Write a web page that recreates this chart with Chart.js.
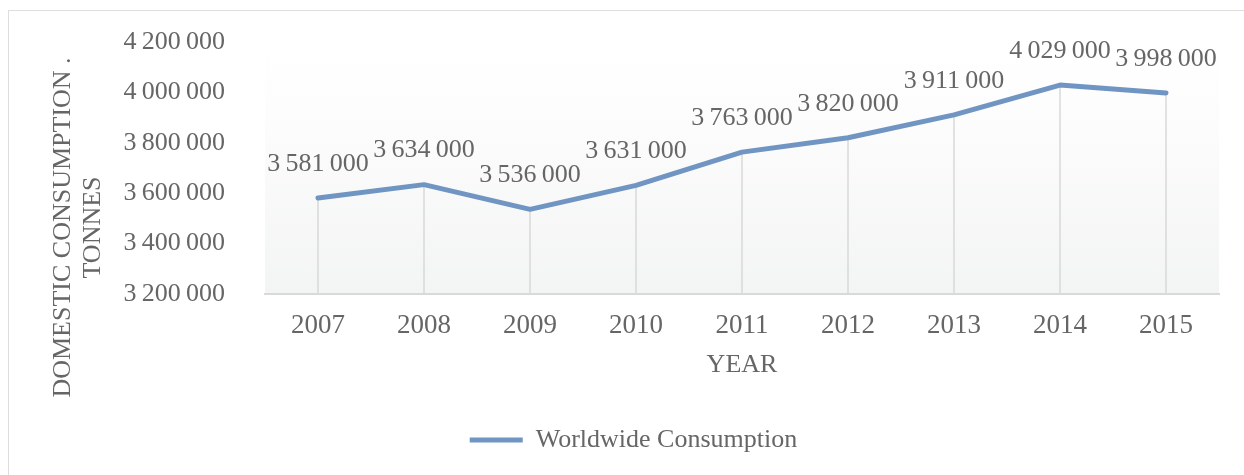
<!DOCTYPE html>
<html>
<head>
<meta charset="utf-8">
<script src="https://cdn.jsdelivr.net/npm/chart.js@4.4.1/dist/chart.umd.min.js"></script>
<style>
    html, body { margin: 0; padding: 0; background: #fff; overflow: hidden; }
    #wrap { position: relative; width: 1244px; height: 475px; }
    #frame { position: absolute; left: 8px; top: 10px; width: 1300px; height: 600px;
             border: 1.5px solid #dedede; pointer-events: none; }
</style>
</head>
<body>
<div id="wrap">
    <canvas id="consumptionChart" width="1244" height="475"></canvas>
    <div id="frame"></div>
</div>
<script>
const years = ['2007', '2008', '2009', '2010', '2011', '2012', '2013', '2014', '2015'];
const consumption = [3581000, 3634000, 3536000, 3631000, 3763000, 3820000, 3911000, 4029000, 3998000];
const yMin = 3200000;
const yMax = 4200000;
const yStep = 200000;
const seriesName = 'Worldwide Consumption';
const yTitle = ['DOMESTIC CONSUMPTION .', 'TONNES'];
const xTitle = 'YEAR';

const serif = "'Liberation Serif', 'Times New Roman', serif";
const textColor = '#666666';
const lineColor = '#7095c2';

// 3 581 000 style grouping with thin spaces
const fmt = v => String(v).replace(/\B(?=(\d{3})+(?!\d))/g, '\u2009');

const plotBackground = {
    id: 'plotBackground',
    beforeDraw(chart) {
        const { ctx, chartArea: a } = chart;
        const g = ctx.createLinearGradient(0, a.top, 0, a.bottom);
        g.addColorStop(0, '#ffffff');
        g.addColorStop(0.35, '#fcfcfc');
        g.addColorStop(1, '#f3f4f4');
        ctx.save();
        ctx.fillStyle = g;
        ctx.fillRect(a.left, a.top, a.right - a.left, a.bottom - a.top);
        ctx.restore();
    }
};

const dropLines = {
    id: 'dropLines',
    beforeDatasetsDraw(chart) {
        const { ctx, chartArea: a } = chart;
        const meta = chart.getDatasetMeta(0);
        ctx.save();
        ctx.strokeStyle = '#d9d9d9';
        ctx.lineWidth = 1.5;
        meta.data.forEach(pt => {
            ctx.beginPath();
            ctx.moveTo(pt.x, pt.y);
            ctx.lineTo(pt.x, a.bottom);
            ctx.stroke();
        });
        ctx.restore();
    }
};

const valueLabels = {
    id: 'valueLabels',
    afterDatasetsDraw(chart) {
        const { ctx } = chart;
        const meta = chart.getDatasetMeta(0);
        const values = chart.data.datasets[0].data;
        ctx.save();
        ctx.font = `26px ${serif}`;
        ctx.fillStyle = textColor;
        ctx.textAlign = 'center';
        ctx.textBaseline = 'middle';
        meta.data.forEach((pt, i) => {
            ctx.fillText(fmt(values[i]), pt.x, pt.y - 34);
        });
        ctx.restore();
    }
};

const ctx = document.getElementById('consumptionChart').getContext('2d');
new Chart(ctx, {
    type: 'line',
    data: {
        labels: years,
        datasets: [{
            label: seriesName,
            data: consumption,
            borderColor: lineColor,
            backgroundColor: lineColor,
            borderWidth: 5,
            borderCapStyle: 'round',
            borderJoinStyle: 'round',
            pointRadius: 0,
            pointHoverRadius: 0,
            tension: 0
        }]
    },
    options: {
        responsive: false,
        devicePixelRatio: 1,
        animation: false,
        layout: { padding: { left: 48, right: 25, top: -8, bottom: 12 } },
        font: { family: serif },
        scales: {
            x: {
                offset: true,
                grid: { display: false, drawTicks: false },
                border: { color: '#d9d9d9', width: 2 },
                ticks: { color: textColor, padding: 16, font: { size: 27, family: serif, lineHeight: 1.2 } },
                title: {
                    display: true, text: xTitle, color: textColor,
                    font: { size: 26, family: serif, lineHeight: 1.2 },
                    padding: { top: 0, bottom: 44 }
                },
                afterFit(scale) { scale.height = 131; }
            },
            y: {
                min: yMin,
                max: yMax,
                grid: { display: false, drawTicks: false },
                border: { display: false },
                ticks: {
                    stepSize: yStep, color: textColor, padding: 40,
                    font: { size: 26, family: serif },
                    callback: v => fmt(v)
                },
                afterFit(scale) {
                    scale.width = 157;
                    scale.paddingTop = 42;
                }
            }
        },
        plugins: {
            tooltip: { enabled: false },
            title: {
                display: true,
                position: 'left',
                text: yTitle,
                color: textColor,
                font: { size: 26, family: serif, weight: 'normal', lineHeight: 30 / 26 },
                padding: 0
            },
            legend: {
                position: 'bottom',
                labels: {
                    usePointStyle: true,
                    pointStyle: 'line',
                    pointStyleWidth: 53,
                    padding: 2,
                    color: textColor,
                    font: { size: 26, family: serif }
                }
            }
        }
    },
    plugins: [plotBackground, dropLines, valueLabels]
});
</script>
</body>
</html>
